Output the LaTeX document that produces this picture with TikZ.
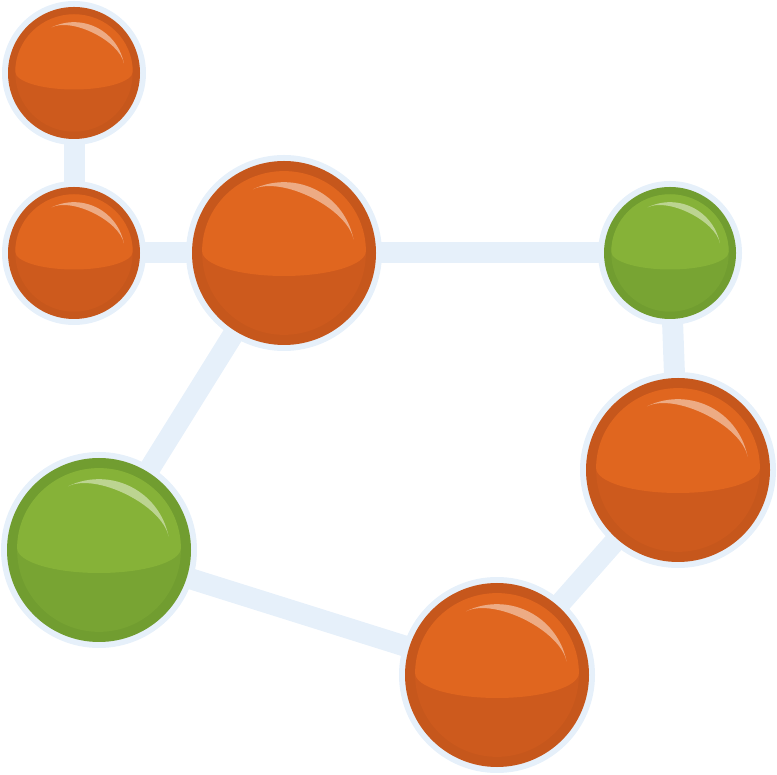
\documentclass[tikz,border=0pt]{standalone}
\usetikzlibrary{backgrounds}

\definecolor{halo}{HTML}{E6F0FA}
\definecolor{orring}{HTML}{C6571C}
\definecolor{ormid}{HTML}{CD5A1D}
\definecolor{ortop}{HTML}{E0661F}
\definecolor{grring}{HTML}{719D30}
\definecolor{grmid}{HTML}{78A433}
\definecolor{grtop}{HTML}{86B238}

\tikzset{
  link/.style={line width=0.21cm, halo},
  shell/.style={circle, inner sep=0pt, draw=halo, line width=0.12cm}
}

% name, position, radius, colour prefix (or / gr)
\newcommand{\ball}[4]{%
  \node[shell, minimum size=2*#3cm, fill=#4ring] (#1) at (#2) {};
  \begin{scope}[shift={(#1.center)}]
    \fill[#4ring] (0,0) circle (#3);
    \fill[#4mid] (0,0) circle (0.89*#3);
    \fill[#4top] (-0.89*#3,0.02*#3) arc (180:0:0.89*#3 and 0.87*#3) arc (0:-180:0.89*#3 and 0.27*#3) -- cycle;
    \fill[white, opacity=0.45] (116:0.77*#3) arc (116:11:0.77*#3)
      to[out=101, in=26, looseness=0.72] (116:0.77*#3) -- cycle;
  \end{scope}}

\begin{document}
\begin{tikzpicture}
  \useasboundingbox (0,0) rectangle (7.77,7.74);

  \ball{top}{0.74,7.01}{0.66}{or}
  \ball{left}{0.74,5.21}{0.66}{or}
  \ball{hub}{2.84,5.21}{0.92}{or}
  \ball{greenright}{6.70,5.21}{0.66}{gr}
  \ball{right}{6.78,3.04}{0.92}{or}
  \ball{bottom}{4.97,0.99}{0.92}{or}
  \ball{greenleft}{0.99,2.24}{0.92}{gr}

  \begin{scope}[on background layer]
    \draw[link] (top.center) -- (left.center);
    \draw[link] (left.center) -- (hub.center);
    \draw[link] (hub.center) -- (greenright.center);
    \draw[link] (greenright.center) -- (right.center);
    \draw[link] (right.center) -- (bottom.center);
    \draw[link] (bottom.center) -- (greenleft.center);
    \draw[link] (greenleft.center) -- (hub.center);
  \end{scope}
\end{tikzpicture}
\end{document}
